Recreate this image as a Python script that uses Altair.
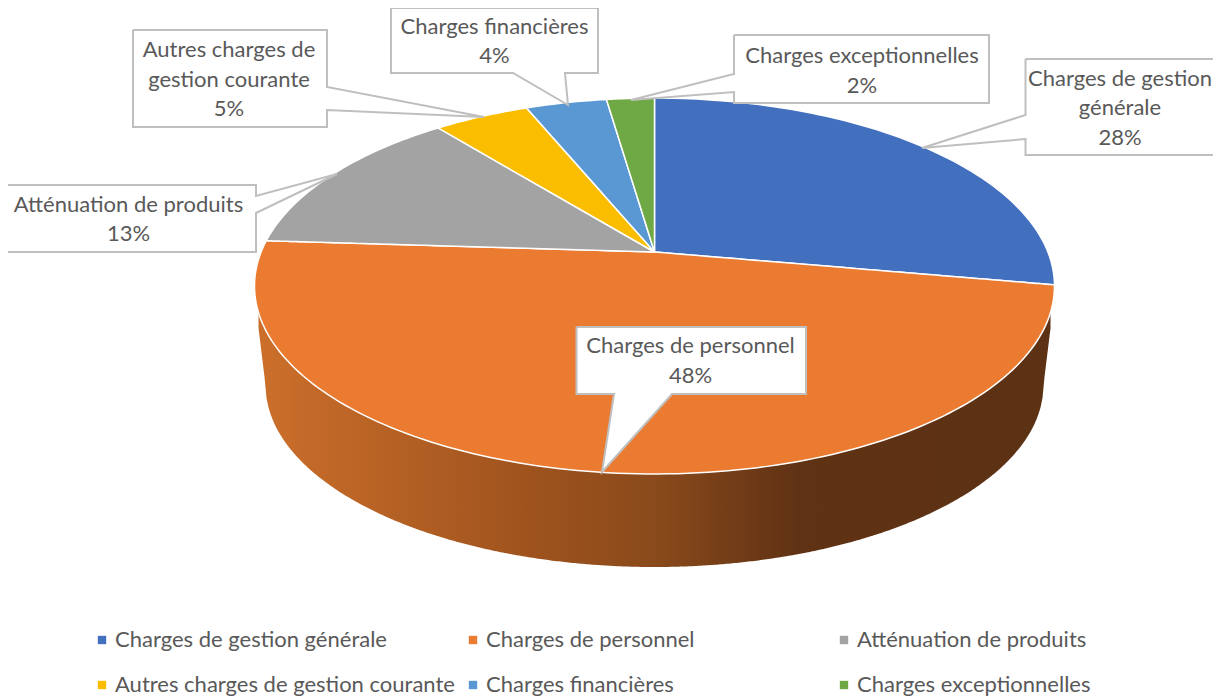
import math
import altair as alt
import pandas as pd

# ---- chart values ----
categories = ["Charges de gestion générale", "Charges de personnel", "Atténuation de produits",
              "Autres charges de gestion courante", "Charges financières", "Charges exceptionnelles"]
shares = [27.8, 48.2, 13.2, 4.6, 3.9, 2.3]
colors = ["#4270BF", "#EA7B30", "#A3A3A3", "#FBBD00", "#5A98D3", "#6EA946"]
label_lines = [["Charges de gestion", "générale"], ["Charges de personnel"], ["Atténuation de produits"],
               ["Autres charges de", "gestion courante"], ["Charges financières"], ["Charges exceptionnelles"]]

FONT = "Lato"
FS = 22
TEXT = "#595959"
GREY = "#BFBFBF"

# ---- geometry of the tilted disc: a perspective view of a circle ----
CX, CY = 654.5, 252.0
k, A, B = 0.181, 393.4, 181.8


def rim(turn):
    th = 2 * math.pi * turn
    u, v = math.sin(th), math.cos(th)
    w = 1 + k * v
    return CX + A * u / w, CY - B * v / w


def span(poly, x):
    ys = []
    for (x0, y0), (x1, y1) in zip(poly, poly[1:] + poly[:1]):
        if min(x0, x1) <= x <= max(x0, x1):
            if x0 == x1:
                ys += [y0, y1]
            else:
                ys.append(y0 + (y1 - y0) * (x - x0) / (x1 - x0))
    return min(ys), max(ys)


def fill_rows(poly, **extra):
    rows = []
    for x in sorted({p[0] for p in poly}):
        a, b = span(poly, x)
        rows.append({"x": x, "y": a, "y2": b, **extra})
    return rows


slice_rows = []
cum = 0.0
for cat, s in zip(categories, shares):
    n = max(4, int(s * 3))
    arc = [rim((cum + s * i / n) / 100) for i in range(n + 1)]
    slice_rows += fill_rows([(CX, CY)] + arc, category=cat)
    cum += s

disc = [rim(i / 720) for i in range(720)]
wall_rows = []
BCX, BCY, BRX, BRY = 654.5, 385.0, 389.0, 182.0
for xi in range(258, 1052, 2):
    d = abs(xi + 0.5 - BCX)
    if d <= BRX:
        lower = BCY + BRY * math.sqrt(max(0, 1 - (d / BRX) ** 2))
    else:
        lower = 312 + (385 - 312) * (398 - d) / (398 - BRX)
    wall_rows.append({"x": xi + 0.5, "y": span(disc, xi + 0.5)[1], "y2": lower})

# ---- callouts: box, then the two points where the pointer leaves the box, then tip ----
callouts = [
    ("Charges de gestion générale", (1025.5, 59, 1235, 155), [(1025.5, 139), (922, 148), (1025.5, 115)], 1120, [79, 108, 138]),
    ("Charges de personnel", (576.5, 327, 806, 394), [(672, 394), (602, 472), (614, 394)], 690.5, [346, 376]),
    ("Atténuation de produits", (-5, 185, 256, 252), [(256, 213), (337, 174), (256, 196)], 128.5, [205, 234]),
    ("Autres charges de gestion courante", (133, 30, 327, 127), [(327, 87), (484, 117), (327, 110)], 229, [50, 80, 109]),
    ("Charges financières", (391, 8, 598, 73), [(565, 73), (568, 105), (513, 73)], 494.5, [27, 56]),
    ("Charges exceptionnelles", (734, 35, 989, 103), [(734, 92), (631, 100), (734, 74)], 862, [56, 86]),
]

box_rows, tri_rows, line_rows, text_rows = [], [], [], []
for name, (x0, y0, x1, y1), (p, tip, q), tx, tys in callouts:
    box_rows.append({"name": name, "x": x0, "x2": x1, "y": y0, "y2": y1})
    tri_rows += fill_rows([p, tip, q], name=name)
    corners = [(x0, y0), (x1, y0), (x1, y1), (x0, y1)]
    # walk round the box, inserting the pointer on the edge it sits on
    path = []
    for i, c in enumerate(corners):
        d = corners[(i + 1) % 4]
        path.append(c)
        on_edge = lambda pt: (c[0] == d[0] == pt[0]) or (c[1] == d[1] == pt[1])
        if on_edge(p) and on_edge(q):
            first, second = (p, q)
            dist = lambda pt: abs(pt[0] - c[0]) + abs(pt[1] - c[1])
            if dist(first) > dist(second):
                first, second = second, first
            path += [first, tip, second]
    path.append(corners[0])
    line_rows += [{"name": name, "i": j, "x": a, "y": b} for j, (a, b) in enumerate(path)]
    idx = categories.index(name)
    lines = label_lines[idx] + [f"{round(shares[idx])}%"]
    text_rows += [{"name": name, "t": t, "x": tx, "y": ty} for t, ty in zip(lines, tys)]

# ---- scales: one unit = one pixel of the picture ----
W, H = 1205, 689
xs = alt.Scale(domain=[8, 8 + W], nice=False, zero=False)
ys = alt.Scale(domain=[8 + H, 8], nice=False, zero=False)
X = alt.X("x:Q", scale=xs, axis=None)
Y = alt.Y("y:Q", scale=ys, axis=None, stack=None)

gradient = alt.Gradient(
    gradient="linear", x1=0, x2=1, y1=0, y2=0,
    stops=[
        alt.GradientStop(offset=0.0, color="#CC6F2B"),
        alt.GradientStop(offset=0.33, color="#A0541E"),
        alt.GradientStop(offset=0.50, color="#8A4A1B"),
        alt.GradientStop(offset=0.68, color="#603214"),
        alt.GradientStop(offset=1.0, color="#5C3114"),
    ],
)

wall = alt.Chart(pd.DataFrame(wall_rows)).mark_area(color=gradient, interpolate="linear").encode(
    x=X, y=Y, y2=alt.Y2("y2:Q"))

# Vega fills a legend column by column, so the domain lists the top row / bottom row alternately.
legend_order = [0, 3, 1, 4, 2, 5]
slices = alt.Chart(pd.DataFrame(slice_rows)).mark_area(stroke="white", strokeWidth=1.5).encode(
    x=X, y=Y, y2=alt.Y2("y2:Q"),
    color=alt.Color(
        "category:N",
        scale=alt.Scale(domain=[categories[i] for i in legend_order], range=[colors[i] for i in legend_order]),
        legend=alt.Legend(
            title=None, orient="none", legendX=83, legendY=621, columns=3, columnPadding=7,
            rowPadding=23, symbolType="square", symbolSize=70, symbolStrokeWidth=0, symbolOffset=0,
            labelFont=FONT, labelFontSize=FS, labelColor=TEXT, labelLimit=420, labelOffset=2,
            padding=0, gridAlign="all",
        ),
    ),
)

tri = alt.Chart(pd.DataFrame(tri_rows)).mark_area(color="white").encode(
    x=X, y=Y, y2=alt.Y2("y2:Q"), detail="name:N")
boxes = alt.Chart(pd.DataFrame(box_rows)).mark_rect(color="white").encode(
    x=X, x2=alt.X2("x2:Q"), y=alt.Y("y:Q", scale=ys, axis=None), y2=alt.Y2("y2:Q"))
outlines = alt.Chart(pd.DataFrame(line_rows)).mark_line(color=GREY, strokeWidth=2, interpolate="linear").encode(
    x=X, y=alt.Y("y:Q", scale=ys, axis=None), detail="name:N", order="i:Q")
texts = alt.Chart(pd.DataFrame(text_rows)).mark_text(
    font=FONT, fontSize=FS, color=TEXT, align="center", baseline="middle").encode(
    x=X, y=alt.Y("y:Q", scale=ys, axis=None), text="t:N")

chart = alt.layer(wall, slices, boxes, tri, outlines, texts).properties(
    width=W, height=H, padding=0,
    autosize=alt.AutoSizeParams(type="none"),
).configure_view(stroke=None)

chart.save("out.html", embed_options={"renderer": "svg", "actions": False})
